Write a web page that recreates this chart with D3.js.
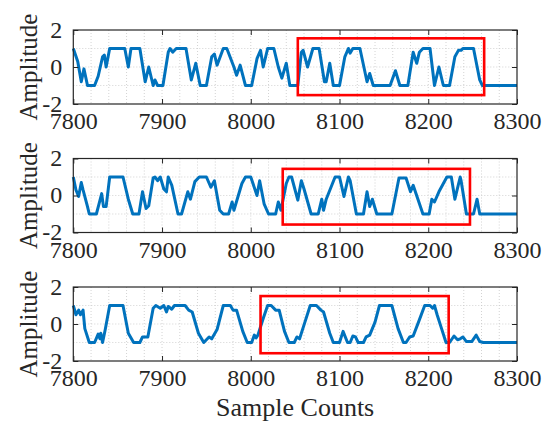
<!DOCTYPE html>
<html>
<head>
<meta charset="utf-8">
<script src="https://cdn.jsdelivr.net/npm/d3@7"></script>
<style>
  body { margin: 0; background: #fff; }
</style>
</head>
<body>
<svg width="545" height="425"></svg>
<script>
// waveform vertices [sample, amplitude]
var sig1 = [[7800,1],[7805,0.3],[7809,-0.8],[7812,-0.1],[7816,-1],[7824,-1],[7828,-0.5],[7833,0.55],[7835,0.65],[7837,0],[7841,1],
  [7858,1],[7862,0],[7865,1],[7875,1],[7881,-0.8],[7885,0],[7890,-1],[7892,-0.7],[7895,-1],[7901,-1],[7907,0.8],[7909,1],
  [7912,0.8],[7916,1],[7927,1],[7933,-0.7],[7938,0.2],[7943,-1],[7950,-1],[7956,0.55],[7959,0.7],[7962,0.1],[7969,1],
  [7973,1],[7981,0],[7984,-0.45],[7988,0.1],[7994,-1],[8001,-1],[8007,0.45],[8011,0.9],[8014,0],[8019,1],[8026,1],
  [8031,0],[8035,-0.6],[8040,0.2],[8044,-1],[8053,-1],[8057,0.8],[8059,0.9],[8064,0],[8070,1],[8077,1],[8083,-0.8],
  [8085,-0.8],[8089,0.2],[8093,-1],[8100,-1],[8106,0.55],[8110,1],[8112,0.75],[8115,1],[8123,1],[8131,-0.8],[8134,-0.35],
  [8138,-1],[8157,-1],[8163,-0.2],[8168,-1],[8177,-1],[8183,0.8],[8187,0.2],[8190,0.8],[8194,1],[8202,1],[8207,-1],
  [8212,0],[8217,-1],[8224,-1],[8230,0.55],[8234,0.9],[8237,0.9],[8239,1],[8251,1],[8258,-0.7],[8261,-1],[8300,-1]];

var sig2 = [[7800,1],[7803,0.3],[7806,-0.05],[7809,0.7],[7811,0.3],[7816,-0.6],[7818,-1],[7826,-1],[7829,-0.45],[7832,0.1],
  [7834,-0.6],[7837,-0.6],[7841,1],[7856,1],[7862,-0.2],[7867,-1],[7874,-1],[7878,0.2],[7882,-0.7],[7885,-0.55],[7890,0.95],
  [7892,1],[7895,0.8],[7898,1],[7902,0.35],[7905,0.2],[7907,1],[7911,0.55],[7918,-1],[7922,-1],[7929,0.2],[7932,-0.2],
  [7937,0.75],[7942,1],[7950,1],[7955,0.45],[7959,0.8],[7965,-0.8],[7969,-1],[7975,-1],[7979,-0.35],[7981,-0.8],[7990,0.65],
  [7994,1],[8000,1],[8007,0],[8010,0.8],[8015,-0.45],[8020,-1],[8028,-1],[8031,-0.35],[8034,-0.8],[8040,0.65],[8043,1],
  [8046,1],[8053,-0.25],[8057,0.8],[8060,0.35],[8068,-1],[8076,-1],[8080,-0.2],[8082,-0.8],[8085,-0.2],[8095,1],[8100,1],
  [8105,-0.05],[8110,1],[8112,0.8],[8119,-1],[8127,-1],[8131,0.2],[8134,-0.6],[8137,-0.2],[8142,-1],[8159,-1],[8167,0.95],
  [8175,0.95],[8180,0.2],[8183,0.55],[8194,-1],[8201,-1],[8204,-0.2],[8207,-0.35],[8212,0.2],[8221,1],[8226,1],[8230,-0.2],
  [8236,1],[8237,0.8],[8243,-1],[8251,-1],[8255,-0.2],[8258,-1],[8300,-1]];

var sig3 = [[7800,1],[7803,0.5],[7806,0.75],[7808,0.5],[7811,0.75],[7813,-0.25],[7818,-1],[7824,-1],[7828,-0.55],[7830,-0.8],
  [7831,-0.5],[7833,-1],[7836,-0.3],[7841,1],[7856,1],[7862,-0.5],[7868,-1],[7875,-1],[7878,-0.7],[7884,-0.7],[7890,0.85],
  [7893,1],[7898,0.85],[7902,1],[7905,0.65],[7907,0.95],[7911,0.8],[7914,1],[7926,1],[7930,0.75],[7934,0.65],[7941,-0.5],
  [7947,-1],[7950,-0.85],[7953,-0.7],[7956,-0.8],[7962,-0.3],[7969,1],[7977,1],[7980,0.75],[7984,0.75],[7991,-0.4],[7996,-1],
  [8001,-1],[8004,-0.6],[8006,-0.75],[8008,-0.6],[8014,0.3],[8019,1],[8023,1],[8028,0.75],[8032,0.75],[8038,-0.4],[8043,-1],
  [8049,-1],[8052,-0.7],[8055,-0.8],[8061,0.1],[8067,1],[8074,1],[8079,0.75],[8082,0.65],[8089,-0.5],[8093,-1],[8100,-1],
  [8104,-0.4],[8109,-1],[8112,-1],[8115,-0.65],[8118,-0.7],[8121,-1],[8127,-1],[8130,-0.7],[8134,-0.6],[8140,0.1],[8145,1],
  [8159,1],[8166,-0.25],[8172,-1],[8175,-1],[8179,-0.7],[8183,-0.65],[8189,0.1],[8196,1],[8202,1],[8205,0.85],[8207,1],
  [8210,0.5],[8215,-0.25],[8220,-1],[8224,-1],[8229,-0.65],[8233,-0.85],[8236,-0.8],[8239,-0.7],[8243,-0.95],[8249,-0.95],
  [8254,-0.6],[8258,-0.95],[8262,-1],[8300,-1]];

var signals = [sig1, sig2, sig3];
// red boxes: [x0, x1, yLow, yHigh]
var boxes = [[8053, 8263, -1.52, 1.55], [8036, 8247, -1.57, 1.44], [8011, 8223, -1.58, 1.51]];

var xTicks = [7800, 7900, 8000, 8100, 8200, 8300];
var yTicks = [-2, 0, 2];
var xGrid = d3.range(7820, 8300, 20);
var yGrid = [-1, 0, 1];

var serif = "'Liberation Serif'";
var svg = d3.select('svg');
var left = 73.3, right = 517, ph = 74;
var tops = [30, 158.5, 287];
var axisCol = '#262626';

var x = d3.scaleLinear().domain([7800, 8300]).range([left, right]);

tops.forEach(function(top, i) {
  var y = d3.scaleLinear().domain([-2, 2]).range([top + ph, top]);
  var g = svg.append('g');

  // dotted grid
  g.selectAll('.gx').data(xGrid).enter().append('line')
    .attr('x1', d => x(d)).attr('x2', d => x(d))
    .attr('y1', top).attr('y2', top + ph)
    .attr('stroke', '#c8c8c8').attr('stroke-width', 0.8).attr('stroke-dasharray', '1,2');
  g.selectAll('.gy').data(yGrid).enter().append('line')
    .attr('x1', left).attr('x2', right)
    .attr('y1', d => y(d)).attr('y2', d => y(d))
    .attr('stroke', '#c8c8c8').attr('stroke-width', 0.8).attr('stroke-dasharray', '1,2');

  // signal
  var line = d3.line().x(d => x(d[0])).y(d => y(d[1]));
  g.append('path').datum(signals[i])
    .attr('d', line)
    .attr('fill', 'none').attr('stroke', '#0072BD')
    .attr('stroke-width', 3).attr('stroke-linejoin', 'round');

  // red box
  var b = boxes[i];
  g.append('rect')
    .attr('x', x(b[0])).attr('y', y(b[3]))
    .attr('width', x(b[1]) - x(b[0])).attr('height', y(b[2]) - y(b[3]))
    .attr('fill', 'none').attr('stroke', '#ff0000').attr('stroke-width', 2.6);

  // axes with inward ticks
  var bottomAxis = d3.axisBottom(x).tickValues(xTicks).tickFormat(d3.format('d'))
    .tickSizeInner(-5).tickSizeOuter(0).tickPadding(12);
  var topAxis = d3.axisTop(x).tickValues(xTicks).tickSizeInner(-5).tickSizeOuter(0).tickFormat('');
  var leftAxis = d3.axisLeft(y).tickValues(yTicks).tickSizeInner(-5).tickSizeOuter(0).tickPadding(11)
    .tickFormat(d => d < 0 ? '-' + Math.abs(d) : d);
  var rightAxis = d3.axisRight(y).tickValues(yTicks).tickSizeInner(-5).tickSizeOuter(0).tickFormat('');

  var ab = g.append('g').attr('transform', 'translate(0,' + (top + ph) + ')').call(bottomAxis);
  var at = g.append('g').attr('transform', 'translate(0,' + top + ')').call(topAxis);
  var al = g.append('g').attr('transform', 'translate(' + left + ',0)').call(leftAxis);
  var ar = g.append('g').attr('transform', 'translate(' + right + ',0)').call(rightAxis);

  [ab, at, al, ar].forEach(function(a) {
    a.select('.domain').remove();
    a.selectAll('line').attr('stroke', axisCol).attr('stroke-width', 1);
    a.selectAll('text').attr('fill', axisCol)
      .style('font-family', serif).attr('font-size', 24);
  });
  ab.selectAll('text').attr('dy', '0.71em').attr('y', 8);
  al.selectAll('text').attr('dy', '0.3em');

  g.append('rect')
    .attr('x', left).attr('y', top).attr('width', right - left).attr('height', ph)
    .attr('fill', 'none').attr('stroke', axisCol).attr('stroke-width', 1.2);

  svg.append('text')
    .attr('transform', 'translate(37,' + (top + ph / 2) + ') rotate(-90)')
    .attr('text-anchor', 'middle')
    .style('font-family', serif)
    .attr('font-size', 25).attr('fill', axisCol)
    .text('Amplitude');
});

svg.append('text')
  .attr('x', (left + right) / 2).attr('y', 416)
  .attr('text-anchor', 'middle')
  .style('font-family', serif)
  .attr('font-size', 26).attr('fill', axisCol)
  .text('Sample Counts');
</script>
</body>
</html>
